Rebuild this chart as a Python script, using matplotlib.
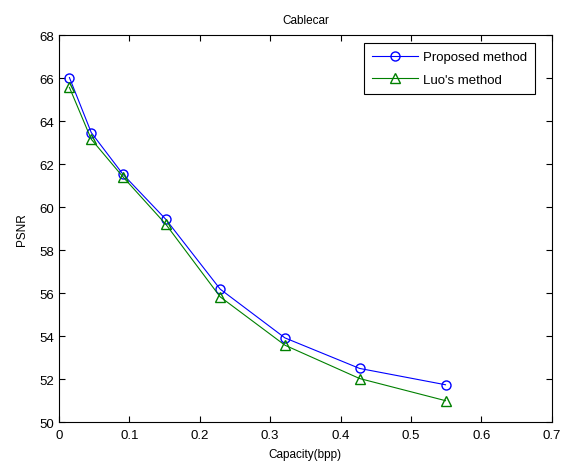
import matplotlib
matplotlib.use('Agg')
import matplotlib.pyplot as plt

capacity_proposed = [0.015, 0.046, 0.091, 0.152, 0.229, 0.321, 0.427, 0.549]
psnr_proposed = [66.03, 63.47, 61.53, 59.43, 56.19, 53.92, 52.50, 51.74]
capacity_luo = [0.015, 0.046, 0.091, 0.152, 0.229, 0.321, 0.427, 0.549]
psnr_luo = [65.57, 63.16, 61.41, 59.20, 55.83, 53.58, 52.03, 51.00]

plt.rcParams['font.family'] = ['Liberation Sans', 'DejaVu Sans']
fig = plt.figure(figsize=(5.66, 4.64), dpi=100)
ax = fig.add_axes([0.104, 0.088, 0.871, 0.834])

ax.plot(capacity_proposed, psnr_proposed, color='#0000ff', marker='o', markersize=6.5,
        markerfacecolor='none', markeredgecolor='#0000ff', linewidth=0.8, label='Proposed method')
ax.plot(capacity_luo, psnr_luo, color='#008000', marker='^', markersize=6.5,
        markerfacecolor='none', markeredgecolor='#008000', linewidth=0.8, label="Luo's method")

ax.set_xlim(0, 0.7)
ax.set_ylim(50, 68)
ax.set_xticks([0, 0.1, 0.2, 0.3, 0.4, 0.5, 0.6, 0.7])
ax.set_xticklabels(['0', '0.1', '0.2', '0.3', '0.4', '0.5', '0.6', '0.7'])
ax.set_yticks(range(50, 69, 2))
ax.tick_params(direction='in', top=True, right=True, labelsize=9.5, length=4, width=0.8)
ax.tick_params(axis='x', pad=5)
for s in ax.spines.values():
    s.set_linewidth(0.8)

ax.set_title('Cablecar', fontsize=8.5, pad=9)
ax.set_xlabel('Capacity(bpp)', fontsize=8.5, labelpad=5)
ax.set_ylabel('PSNR', fontsize=8.5, labelpad=8)

leg = ax.legend(loc='upper right', bbox_to_anchor=(0.966, 0.979), borderaxespad=0,
                fontsize=9.5, fancybox=False, edgecolor='black', framealpha=1,
                handlelength=3.5, handletextpad=0.4, labelspacing=0.75, borderpad=0.6)
leg.get_frame().set_linewidth(0.8)

fig.savefig('out.png', dpi=100)
